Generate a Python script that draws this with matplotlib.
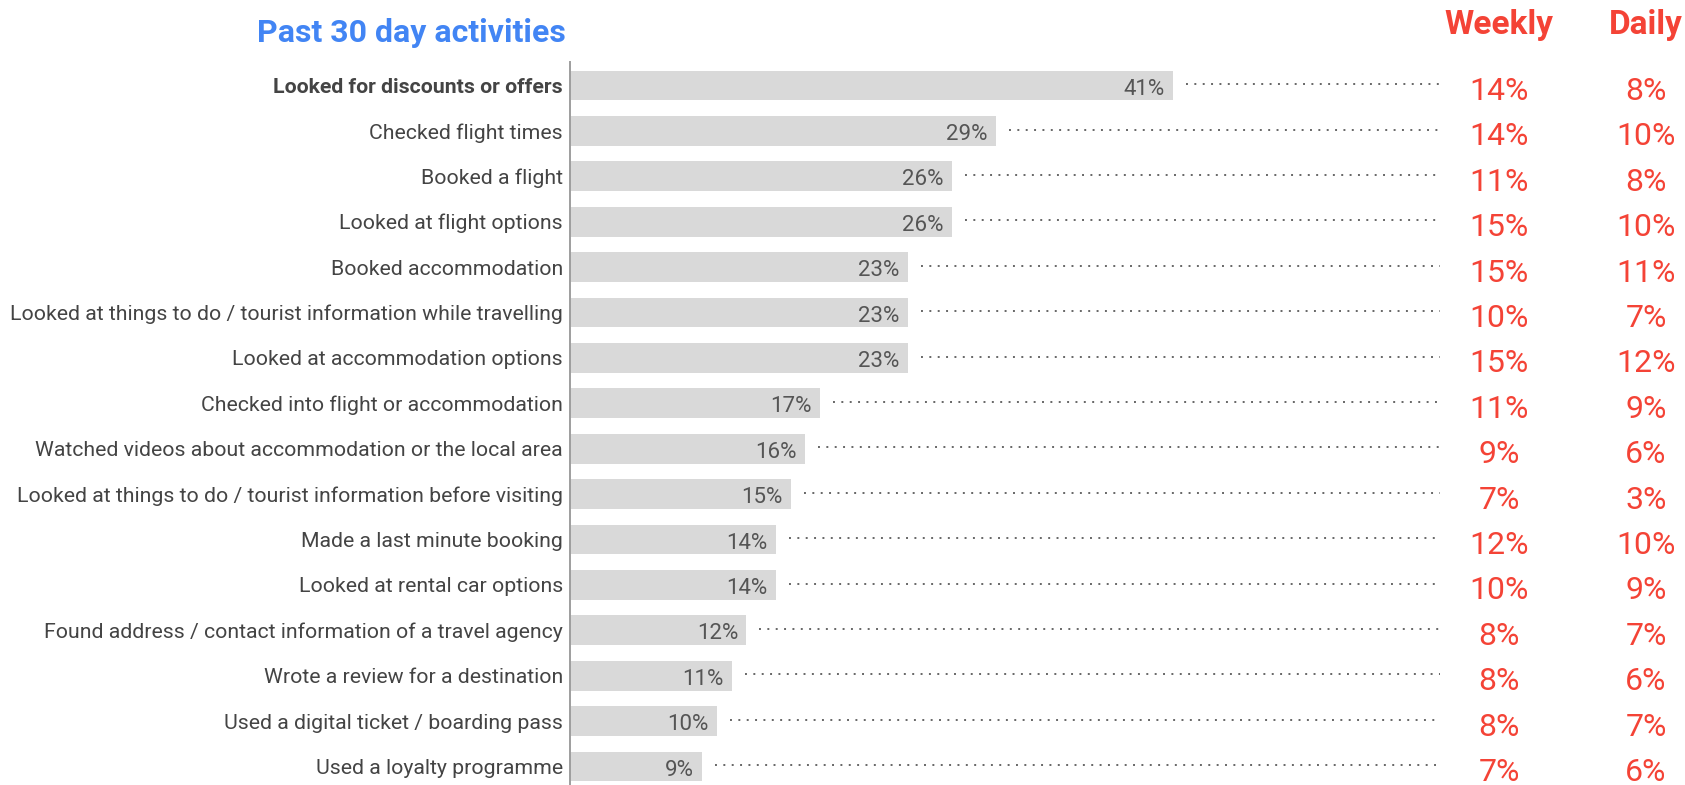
import matplotlib
matplotlib.use("Agg")
import matplotlib.pyplot as plt
from matplotlib import font_manager

# ---- data -------------------------------------------------------------
activities = [
    "Looked for discounts or offers",
    "Checked flight times",
    "Booked a flight",
    "Looked at flight options",
    "Booked accommodation",
    "Looked at things to do / tourist information while travelling",
    "Looked at accommodation options",
    "Checked into flight or accommodation",
    "Watched videos about accommodation or the local area",
    "Looked at things to do / tourist information before visiting",
    "Made a last minute booking",
    "Looked at rental car options",
    "Found address / contact information of a travel agency",
    "Wrote a review for a destination",
    "Used a digital ticket / boarding pass",
    "Used a loyalty programme",
]
past_30_days = [41, 29, 26, 26, 23, 23, 23, 17, 16, 15, 14, 14, 12, 11, 10, 9]
weekly = [14, 14, 11, 15, 15, 10, 15, 11, 9, 7, 12, 10, 8, 8, 8, 7]
daily = [8, 10, 8, 10, 11, 7, 12, 9, 6, 3, 10, 9, 7, 6, 7, 6]

# ---- styling ----------------------------------------------------------
W, H, DPI = 1685, 785, 100
BLUE = "#4285F4"
RED = "#F44336"
BAR = "#D9D9D9"
LABEL = "#444444"
VALUE = "#555555"

installed = {f.name for f in font_manager.fontManager.ttflist}
narrow = [f for f in ["Liberation Sans Narrow", "DejaVu Sans Condensed"] if f in installed]
value_family = narrow + ["Roboto"]

plt.rcParams["font.family"] = ["Roboto", "DejaVu Sans"]

fig = plt.figure(figsize=(W / DPI, H / DPI), dpi=DPI)

# axes geometry in pixels
ax_left, ax_top, ax_bottom = 570, 62, 785
px_per_pct = 14.7
row_pitch = 45.4
ax = fig.add_axes([ax_left / W, 0, (W - ax_left) / W, (ax_bottom - ax_top) / H])

n = len(activities)
y = list(range(n))
first_center = 85.5
top_pad = (first_center - ax_top) / row_pitch
ax.set_ylim(-top_pad + (ax_bottom - ax_top) / row_pitch, -top_pad)
ax.set_xlim(0, (W - ax_left) / px_per_pct)

ax.barh(y, past_30_days, height=0.66, color=BAR, zorder=2)

dots_end = (1440 - ax_left) / px_per_pct
weekly_x = (1499 - ax_left) / px_per_pct
daily_x = (1646 - ax_left) / px_per_pct
gap = 13 / px_per_pct

for i, (v, wk, dy) in enumerate(zip(past_30_days, weekly, daily)):
    ax.annotate(f"{v}%", xy=(v, i + 0.2), xytext=(-6, 0),
                textcoords="offset points", ha="right", va="baseline",
                fontsize=16, color=VALUE, family=value_family, zorder=3)
    ax.plot([v + gap, dots_end], [i - 0.03, i - 0.03], color="#666666",
            linewidth=1.4, linestyle=(0, (1.0, 3.3)), dash_capstyle="butt",
            zorder=2)
    ax.text(weekly_x, i + 0.32, f"{wk}%", ha="center", va="baseline",
            fontsize=23, color=RED)
    ax.text(daily_x, i + 0.32, f"{dy}%", ha="center", va="baseline",
            fontsize=23, color=RED)

ax.set_yticks(y)
ax.set_yticklabels(activities, fontsize=15.3, color=LABEL)
ax.get_yticklabels()[0].set_fontweight("bold")
ax.tick_params(axis="y", length=0, pad=5)
ax.set_xticks([])

for side in ["top", "right", "bottom"]:
    ax.spines[side].set_visible(False)
ax.spines["left"].set_color("#9E9E9E")
ax.spines["left"].set_linewidth(1.4)

# headings
fig.text(257 / W, 1 - 33 / H, "Past 30 day activities", ha="left", va="center",
         fontsize=23, fontweight="bold", color=BLUE)
fig.text(1499 / W, 1 - 25 / H, "Weekly", ha="center", va="center",
         fontsize=24, fontweight="bold", color=RED)
fig.text(1646 / W, 1 - 25 / H, "Daily", ha="center", va="center",
         fontsize=24, fontweight="bold", color=RED)

fig.savefig("out.png", dpi=DPI, facecolor="white")
